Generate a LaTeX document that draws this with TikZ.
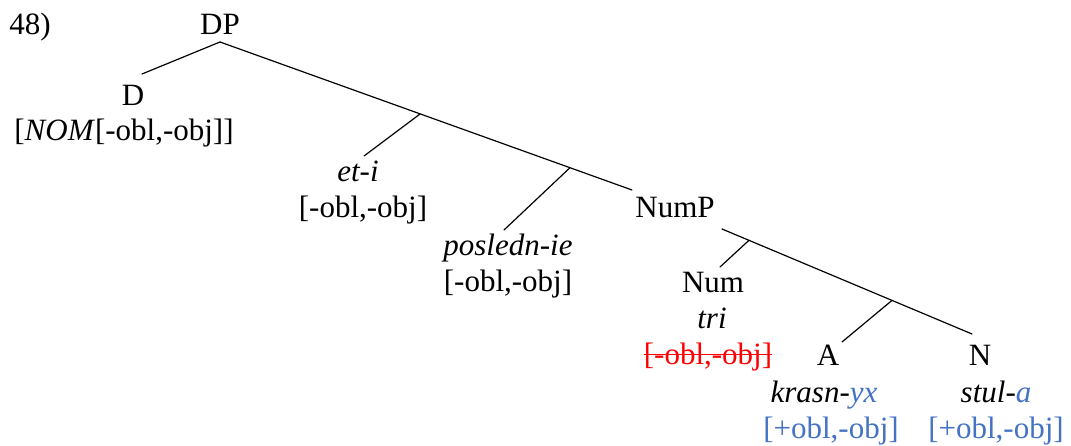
\documentclass[tikz,border=0pt]{standalone}
\usepackage{fontspec}
\setmainfont{Liberation Serif}
\usepackage{xcolor}
\definecolor{featblue}{HTML}{4472C4}
\definecolor{featred}{HTML}{FF0000}
\begin{document}
\begin{tikzpicture}[x=1pt,y=-1pt,
  lab/.style={anchor=base,inner sep=0pt,font=\fontsize{31}{35.6}\selectfont},
  edge/.style={line width=1.2pt,line cap=round}]
\useasboundingbox (0,0) rectangle (1071,446);
% labels
\node[lab] (ex) at (30,35) {48)};
\node[lab] (dp) at (220,35) {DP};
\node[lab] (d) at (133,106) {D};
\node[lab] (dfeat) at (124,141) {[\textit{NOM}[-obl,-obj]]};
\node[lab] (eti) at (358,182) {\textit{et-i}};
\node[lab] (etifeat) at (363,218) {[-obl,-obj]};
\node[lab] (posl) at (508,256) {\textit{posledn-ie}};
\node[lab] (poslfeat) at (508,292) {[-obl,-obj]};
\node[lab] (nump) at (675,218) {NumP};
\node[lab] (num) at (713,293) {Num};
\node[lab] (tri) at (712,328) {\textit{tri}};
\node[lab,text=featred] (trifeat) at (708,364) {[-obl,-obj]};
\node[lab] (a) at (828,366) {A};
\node[lab] (krasn) at (824,402) {\textit{krasn-}\textcolor{featblue}{\textit{yx}}};
\node[lab,text=featblue] (afeat) at (831,438) {[+obl,-obj]};
\node[lab] (n) at (980,366) {N};
\node[lab] (stul) at (996,402) {\textit{stul-}\textcolor{featblue}{\textit{a}}};
\node[lab,text=featblue] (nfeat) at (996,438) {[+obl,-obj]};
% strike-through
\draw[featred,line width=1.4pt] ([yshift=9.5pt]trifeat.base west) -- ([yshift=9.5pt]trifeat.base east);
% branch coordinates
\coordinate (dpB) at (220,42);
\coordinate (dT) at (142,74);
\coordinate (numpT) at (632,190);
\coordinate (etiB) at (420,114);
\coordinate (etiT) at (364,156);
\coordinate (poslB) at (570,167.7);
\coordinate (poslT) at (504,230);
\coordinate (numpB) at (722,229);
\coordinate (nT) at (972,334);
\coordinate (numB) at (749,240.3);
\coordinate (numT) at (720,267);
\coordinate (aB) at (892,300.4);
\coordinate (aT) at (842,342);
% edges
\draw[edge] (dpB) -- (dT);
\draw[edge] (dpB) -- (numpT);
\draw[edge] (etiB) -- (etiT);
\draw[edge] (poslB) -- (poslT);
\draw[edge] (numpB) -- (nT);
\draw[edge] (numB) -- (numT);
\draw[edge] (aB) -- (aT);
\end{tikzpicture}
\end{document}
